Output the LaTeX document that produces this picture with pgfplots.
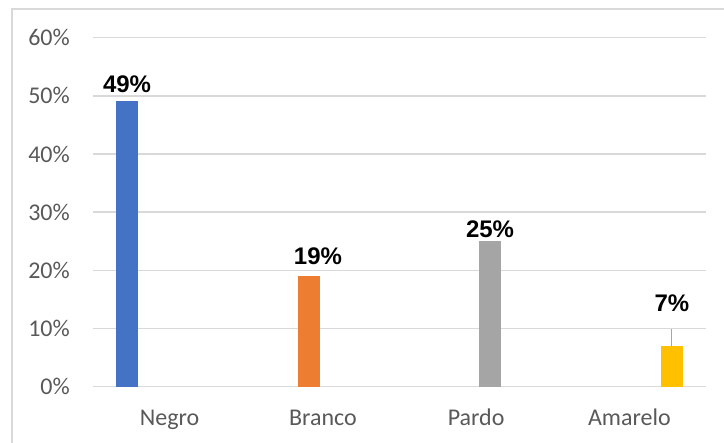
\documentclass[border=0pt]{standalone}
\usepackage{fontspec}
\setmainfont{Carlito}
\newfontfamily\labelfont{Liberation Sans}
\usepackage{pgfplots}
\pgfplotsset{compat=1.18}
\definecolor{cBlue}{HTML}{4472C4}
\definecolor{cOrange}{HTML}{ED7D31}
\definecolor{cGray}{HTML}{A5A5A5}
\definecolor{cGold}{HTML}{FFC000}
\definecolor{gridc}{HTML}{D9D9D9}
\definecolor{tickc}{HTML}{595959}
\begin{document}
\begin{tikzpicture}
\path[use as bounding box] (-93bp,-56.3bp) rectangle (631bp,386.7bp);
\draw[color=gridc, line width=1.5bp] (-81bp,-90bp) rectangle (660bp,377.7bp);
\begin{axis}[
  at={(0,0)}, anchor=south west,
  scale only axis, width=613bp, height=349bp,
  xmin=-0.5, xmax=3.5, ymin=0, ymax=60,
  ytick={0,10,...,60},
  xtick={0,1,2,3},
  xticklabels={Negro,Branco,Pardo,Amarelo},
  yticklabel={\pgfmathprintnumber{\tick}\%},
  /pgf/number format/assume math mode=true,
  axis line style={draw=none},
  major tick length=0pt,
  tick style={draw=none},
  ymajorgrids,
  major grid style={color=gridc, line width=1.5bp},
  tick label style={font=\fontsize{24bp}{28bp}\selectfont, text=tickc},
  yticklabel style={anchor=east, inner sep=0pt, xshift=-23bp},
  xticklabel style={anchor=base, inner sep=0pt, yshift=-39bp},
  ybar, bar width=22bp, bar shift=0pt,
  clip=false,
  nodes near coords={\pgfmathprintnumber[fixed,precision=0]{\pgfplotspointmeta}\%},
  nodes near coords style={font=\labelfont\bfseries\fontsize{24bp}{28bp}\selectfont, text=black, anchor=base, inner sep=0pt},
]
\addplot[fill=cBlue, draw=none, nodes near coords style={yshift=8bp}] coordinates {(-0.278,49.2)};
\addplot[fill=cOrange, draw=none, nodes near coords style={yshift=11bp, xshift=9bp}] coordinates {(0.909,19.05)};
\addplot[fill=cGray, draw=none, nodes near coords style={yshift=3.5bp}] coordinates {(2.091,25.1)};
\addplot[fill=cGold, draw=none, nodes near coords style={yshift=34bp}] coordinates {(3.278,7.0)};
\draw[color=cGray, line width=1bp] (axis cs:3.278,7.0) -- (axis cs:3.278,10);
\end{axis}
\end{tikzpicture}
\end{document}
